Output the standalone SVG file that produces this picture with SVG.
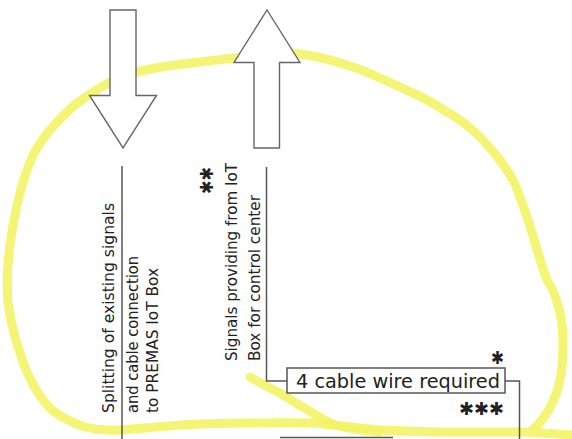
<svg xmlns="http://www.w3.org/2000/svg" width="572" height="439" viewBox="0 0 572 439">
<style>
.hl{fill:none;stroke:#f3f366;stroke-width:9;stroke-linecap:round;stroke-linejoin:round;opacity:0.9}
.ln{fill:none;stroke:#555;stroke-width:1.5}
.ar{fill:#fff;stroke:#666;stroke-width:1.4;stroke-linejoin:miter}
.t{font-family:"DejaVu Sans","Liberation Sans",sans-serif;fill:#222}
.v{font-size:16.5px}
.b{font-size:19px}
.s{font-size:18px}
</style>
<rect width="572" height="439" fill="#fff"/>
<g id="highlight">
<path class="hl" d="M530 432 C545 420 556 400 560 380 C564 360 564 330 560 313 C556 295 552 287 547 280 C540 262 534 238 527 217 C522 202 518 190 513 180 C503 162 492 150 480 137 C470 127 458 118 447 112 C436 105 425 98 413 93 C402 88 391 83 380 78 C369 73 358 68 347 65 C328 59 309 54 290 53 C271 53 252 56 233 58 C211 61 189 63 167 66 C155 68 144 70 133 73 C122 77 110 81 100 88 C88 95 77 102 67 112 C53 125 42 138 33 155 C24 175 18 198 14 220 C11 236 9 250 8 264 C7 277 7 290 8 303 C10 316 12 328 16 340 C19 350 22 360 26 370 C33 386 40 399 52 410 C62 418 73 423 85 427 C97 430 108 431 120 430 C147 428 173 425 200 424 C238 423 275 422 313 423 C336 425 358 428 380 430 C403 431 427 432 450 432 C477 432 503 432 530 432 C544 433 558 434 572 435"/>
<path class="hl" d="M250 377 C260 383 270 388 280 393 C291 400 302 407 313 413 C319 417 325 421 335 425 C350 429 365 431 380 432"/>
</g>
<g id="connectors">
<line class="ln" x1="122" y1="166" x2="122" y2="439"/>
<polyline class="ln" points="266.5,167 266.5,381 287,381"/>
<polyline class="ln" points="505,381 519.5,381 519.5,439"/>
<line class="ln" x1="280" y1="437.5" x2="393" y2="437.5"/>
</g>
<g id="arrow-down">
<polygon class="ar" points="110,10 136,10 136,95.5 156.5,95.5 123,148 89.5,95.5 110,95.5"/>
</g>
<g id="arrow-up">
<polygon class="ar" points="267,10 300,62.5 279.5,62.5 279.5,148 254,148 254,62.5 234,62.5"/>
</g>
<g id="label-splitting">
<text class="t v" transform="translate(114,413) rotate(-90)" textLength="210" lengthAdjust="spacingAndGlyphs">Splitting of existing signals</text>
<text class="t v" transform="translate(137.5,413) rotate(-90)" textLength="157" lengthAdjust="spacingAndGlyphs">and cable connection</text>
<text class="t v" transform="translate(158,413) rotate(-90)" textLength="145" lengthAdjust="spacingAndGlyphs">to PREMAS IoT Box</text>
</g>
<g id="label-signals">
<text class="t v" transform="translate(237,361) rotate(-90)" textLength="198" lengthAdjust="spacingAndGlyphs">Signals providing from IoT</text>
<text class="t v" transform="translate(259.5,361) rotate(-90)" textLength="166" lengthAdjust="spacingAndGlyphs">Box for control center</text>
<text class="t s" transform="translate(213,194) rotate(-90)" textLength="27" lengthAdjust="spacingAndGlyphs">✱✱</text>
</g>
<g id="box-cable">
<rect class="ln" x="287" y="368" width="218" height="25" fill="#fff"/>
<text class="t b" x="296" y="388" textLength="204" lengthAdjust="spacingAndGlyphs">4 cable wire required</text>
</g>
<g id="stars">
<text class="t s" x="491" y="364" textLength="13" lengthAdjust="spacingAndGlyphs">✱</text>
<text class="t s" x="459" y="415" textLength="45" lengthAdjust="spacingAndGlyphs">✱✱✱</text>
</g>
</svg>
